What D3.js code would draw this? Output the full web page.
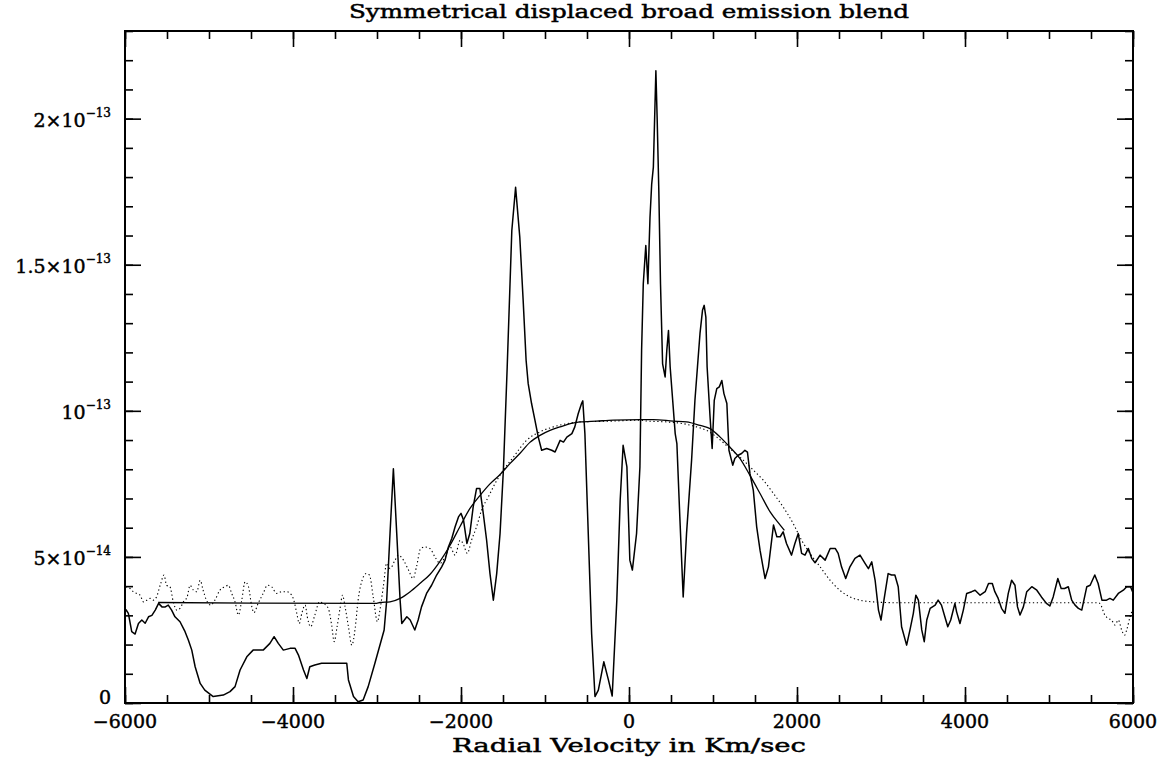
<!DOCTYPE html>
<meta charset="utf-8">
<style>
body { margin: 0; background: #fff; }
text { font-family: "DejaVu Serif", serif; fill: #000; stroke: #000; stroke-width: 0.45; }
</style>
<body>
<svg id="chart" width="1169" height="765"></svg>
<script src="https://d3js.org/d3.v7.min.js"></script>
<script>
// flux values are in units of 1e-14

// observed spectrum (solid)
var specV = [-5990,-5960,-5920,-5880,-5840,-5800,-5760,-5720,-5680,-5640,-5600,-5560,-5520,-5485,-5445,-5405,-5345,-5285,-5245,-5205,-5165,-5105,-5050,-4950,-4830,-4750,-4690,-4630,-4550,-4475,-4355,-4275,-4225,-4175,-4115,-4035,-3975,-3935,-3875,-3835,-3800,-3740,-3660,-3360,-3340,-3280,-3225,-3165,-3105,-3025,-2915,-2885,-2845,-2805,-2765,-2725,-2705,-2645,-2605,-2550,-2510,-2470,-2410,-2350,-2290,-2230,-2190,-2150,-2110,-2070,-2030,-2000,-1970,-1930,-1895,-1855,-1815,-1775,-1735,-1695,-1655,-1615,-1575,-1535,-1495,-1450,-1395,-1350,-1300,-1260,-1225,-1200,-1160,-1120,-1080,-1040,-980,-920,-880,-820,-780,-740,-680,-645,-605,-565,-550,-525,-485,-445,-405,-365,-300,-245,-200,-145,-105,-70,-25,10,40,90,130,150,170,200,225,250,270,290,320,335,355,375,400,430,450,470,490,520,550,570,605,645,685,745,785,815,845,875,895,915,930,965,990,1015,1045,1075,1105,1130,1165,1190,1235,1260,1300,1340,1380,1410,1440,1480,1520,1560,1620,1660,1720,1760,1800,1835,1875,1935,1975,2015,2055,2095,2135,2175,2215,2275,2335,2395,2455,2490,2530,2580,2630,2690,2750,2810,2850,2890,2930,2970,3000,3035,3085,3125,3165,3205,3245,3305,3345,3385,3415,3445,3485,3515,3545,3585,3645,3680,3720,3760,3795,3830,3880,3900,3940,3980,4020,4080,4120,4180,4240,4280,4325,4355,4395,4435,4475,4515,4555,4595,4625,4655,4695,4735,4795,4855,4910,4970,5010,5050,5105,5145,5185,5230,5270,5310,5350,5390,5450,5490,5545,5585,5630,5685,5725,5765,5825,5885,5925,5970,5995];
var specF = [3.2,3.07,2.44,2.36,2.72,2.84,2.73,2.95,3.0,3.18,3.41,3.29,3.29,3.35,3.18,2.95,2.78,2.44,2.15,1.81,1.24,0.67,0.44,0.22,0.27,0.39,0.56,1.13,1.58,1.81,1.81,2.04,2.27,2.04,1.81,1.87,1.87,1.64,1.13,0.84,1.24,1.30,1.36,1.36,0.79,0.22,0.04,0.1,0.56,1.36,2.5,3.5,5.8,8.02,5.8,3.52,2.72,2.95,2.84,2.5,2.84,3.29,3.75,4.03,4.38,4.66,4.89,5.34,5.63,6.03,6.37,6.49,6.26,5.46,5.8,6.71,7.34,7.34,6.49,5.57,4.43,3.52,4.43,5.8,8.0,11.5,16.17,17.65,15.94,13.78,11.73,10.93,10.25,9.68,9.1,8.65,8.71,8.65,8.59,8.99,8.93,9.1,9.22,9.45,9.9,10.25,10.34,9.22,5.8,2.38,0.22,0.44,1.41,0.79,0.24,3.52,6.94,8.82,8.08,4.89,4.55,5.8,8.08,12.07,14.35,15.66,14.35,16.62,17.76,18.34,21.64,20.04,17.54,14.35,11.61,11.16,12.07,12.75,11.5,10.36,9.22,8.88,6.37,3.63,5.8,8.31,10.36,11.5,12.64,13.44,13.61,13.21,11.5,9.79,8.71,10.36,10.76,10.82,11.04,10.59,10.25,8.65,8.14,8.37,8.48,8.54,8.65,8.59,7.85,7.28,6.03,5.23,4.26,4.66,6.09,5.69,5.69,5.86,5.46,5.06,5.46,5.8,5.12,5.06,5.29,4.95,4.8,5.06,4.89,5.29,5.29,5.12,4.66,4.26,4.66,4.95,5.06,4.78,4.6,4.83,4.2,3.18,2.84,3.52,4.43,4.38,4.38,3.98,2.61,1.98,2.5,3.07,3.69,3.52,2.5,2.1,2.84,3.24,3.35,3.52,3.35,2.95,2.61,2.84,3.41,3.12,2.72,3.18,3.75,3.81,3.86,3.69,3.81,4.09,4.09,3.81,3.58,3.24,3.07,3.75,4.2,4.03,3.29,3.01,3.29,3.81,3.98,3.86,3.63,3.41,3.32,3.63,4.26,3.92,3.92,3.98,3.52,3.35,3.24,3.18,3.98,4.03,4.38,4.09,3.52,3.52,3.58,3.52,3.75,3.86,3.98,3.98,3.81];

// fitted broad profile (solid, smooth)
var modelV = [-5605,-4500,-3005,-2965,-2845,-2725,-2605,-2490,-2370,-2250,-2130,-2010,-1895,-1775,-1655,-1535,-1415,-1300,-1180,-1060,-940,-820,-700,-585,-385,-185,130,290,525,685,845,965,1085,1200,1320,1440,1560,1680,1800,1850];
var modelF = [3.44,3.42,3.41,3.44,3.46,3.58,3.81,4.09,4.4,4.85,5.4,6.05,6.65,7.1,7.5,7.82,8.2,8.54,8.92,9.16,9.33,9.45,9.56,9.62,9.65,9.68,9.7,9.7,9.65,9.62,9.5,9.39,9.1,8.76,8.37,7.79,7.17,6.54,6.09,5.91];

// symmetrical displaced profile (dotted)
var dotV = [-5990,-5940,-5900,-5860,-5820,-5780,-5740,-5700,-5665,-5625,-5575,-5535,-5505,-5465,-5425,-5385,-5345,-5305,-5260,-5225,-5185,-5145,-5105,-5070,-5030,-4980,-4930,-4870,-4810,-4770,-4730,-4690,-4650,-4610,-4570,-4530,-4490,-4465,-4415,-4355,-4305,-4255,-4195,-4135,-4075,-4015,-3985,-3955,-3925,-3895,-3855,-3830,-3790,-3740,-3685,-3640,-3580,-3540,-3510,-3475,-3440,-3410,-3380,-3340,-3300,-3260,-3225,-3170,-3130,-3090,-3045,-2995,-2965,-2925,-2885,-2845,-2785,-2745,-2685,-2625,-2570,-2530,-2480,-2430,-2370,-2310,-2250,-2190,-2130,-2070,-2010,-1975,-1925,-1875,-1815,-1755,-1675,-1595,-1495,-1375,-1220,-1060,-900,-740,-585,-185,130,210,450,645,805,925,1045,1200,1360,1480,1600,1720,1835,1955,2055,2155,2275,2395,2510,2630,2750,2910,3225,4415,5585,5605,5665,5705,5745,5785,5825,5865,5900,5925,5965,5985];
var dotF = [3.98,3.92,3.81,3.75,3.69,3.46,3.52,3.58,3.52,3.63,4.09,4.38,4.03,3.98,3.46,3.18,3.24,3.46,3.63,4.03,3.86,3.81,4.2,3.86,3.52,3.35,3.52,3.86,3.98,4.03,3.75,3.46,3.01,3.52,4.15,3.98,3.29,3.09,3.41,3.75,4.03,3.98,3.75,3.81,3.81,3.69,3.46,3.07,2.72,3.07,3.35,2.95,2.61,3.01,3.46,3.41,3.24,2.67,2.1,2.61,3.24,3.69,3.29,2.61,1.98,2.55,3.52,4.26,4.43,4.38,3.63,2.78,3.18,3.98,4.78,4.6,4.89,5.06,4.89,4.55,4.26,4.66,5.29,5.34,5.29,5.0,4.78,5.0,5.34,5.06,5.57,5.46,5.12,5.57,6.03,6.6,7.05,7.51,7.97,8.42,8.99,9.28,9.45,9.56,9.62,9.65,9.68,9.65,9.62,9.56,9.45,9.33,9.1,8.71,8.31,7.97,7.62,7.17,6.71,6.14,5.57,5.12,4.66,4.2,3.86,3.63,3.52,3.46,3.43,3.43,3.43,3.41,3.01,2.89,2.84,2.67,2.84,2.5,2.32,2.5,2.95,3.12];

// axes
var xMajor = [-6000,-4000,-2000,0,2000,4000,6000];
var xMinor = d3.range(-6000, 6001, 500);
var xLabels = ["\u22126000","\u22124000","\u22122000","0","2000","4000","6000"];
var yMajor = [0,5,10,15,20];
var yMinor = d3.range(0, 23.01, 1);
var yBase = ["0","5\u00d710","10","1.5\u00d710","2\u00d710"];
var yExp = ["","\u221214","\u221213","\u221213","\u221213"];

var svg = d3.select("#chart");
var m = {left: 125, right: 36, top: 31, bottom: 62};
var W = 1169, H = 765;
var pw = W - m.left - m.right, ph = H - m.top - m.bottom;

var x = d3.scaleLinear().domain([-6000, 6000]).range([0, pw]);
var y = d3.scaleLinear().domain([0, 23]).range([ph, 0]);

var g = svg.append("g").attr("transform", "translate(" + m.left + "," + m.top + ")");

svg.append("defs").append("clipPath").attr("id", "clip")
  .append("rect").attr("width", pw).attr("height", ph);

var plot = g.append("g").attr("clip-path", "url(#clip)");

function zip(vs, fs) { return vs.map(function(v, i) { return [v, fs[i]]; }); }

var line = d3.line().x(function(d) { return x(d[0]); }).y(function(d) { return y(d[1]); });
var smooth = d3.line().curve(d3.curveMonotoneX).x(function(d) { return x(d[0]); }).y(function(d) { return y(d[1]); });

plot.append("path").datum(zip(dotV, dotF))
  .attr("d", smooth).attr("fill", "none").attr("stroke", "#000")
  .attr("stroke-width", 1.1).attr("stroke-dasharray", "1.3,2.6");

plot.append("path").datum(zip(modelV, modelF))
  .attr("d", smooth).attr("fill", "none").attr("stroke", "#000").attr("stroke-width", 1.3);

plot.append("path").datum(zip(specV, specF))
  .attr("d", line).attr("fill", "none").attr("stroke", "#000")
  .attr("stroke-width", 1.5).attr("stroke-linejoin", "round");

// ticks on all four sides, pointing inwards
var sides = [
  [d3.axisBottom, x, "translate(0," + ph + ")", xMinor, xMajor],
  [d3.axisTop, x, "translate(0,0)", xMinor, xMajor],
  [d3.axisLeft, y, "translate(0,0)", yMinor, yMajor],
  [d3.axisRight, y, "translate(" + pw + ",0)", yMinor, yMajor]
];
sides.forEach(function(s) {
  [[s[3], 8], [s[4], 16]].forEach(function(t) {
    var a = g.append("g").attr("transform", s[2])
      .call(s[0](s[1]).tickValues(t[0]).tickSize(-t[1]).tickFormat(""));
    a.select(".domain").remove();
    a.selectAll(".tick line").attr("stroke", "#000").attr("stroke-width", 1.6);
  });
});

g.append("rect").attr("width", pw).attr("height", ph)
  .attr("fill", "none").attr("stroke", "#000").attr("stroke-width", 2);

// x tick labels
g.selectAll(".xlab").data(xMajor).enter().append("text")
  .attr("x", function(d) { return x(d); })
  .attr("y", ph + 25)
  .attr("text-anchor", "middle")
  .attr("font-size", 19)
  .text(function(d, i) { return xLabels[i]; });

// y tick labels with exponents
var yl = g.selectAll(".ylab").data(yMajor).enter().append("text")
  .attr("x", -14)
  .attr("y", function(d) { return d === 0 ? y(d) + 1 : y(d) + 8; })
  .attr("text-anchor", "end")
  .attr("font-size", 19);
yl.append("tspan").text(function(d, i) { return yBase[i]; });
yl.append("tspan").attr("font-size", 12).attr("dy", -10)
  .text(function(d, i) { return yExp[i]; });

// title and axis label
svg.append("text").attr("x", m.left + pw / 2).attr("y", 18)
  .attr("text-anchor", "middle").attr("font-size", 18)
  .attr("textLength", 560).attr("lengthAdjust", "spacingAndGlyphs")
  .text("Symmetrical displaced broad emission blend");

svg.append("text").attr("x", m.left + pw / 2).attr("y", 752)
  .attr("text-anchor", "middle").attr("font-size", 19)
  .attr("textLength", 354).attr("lengthAdjust", "spacingAndGlyphs")
  .text("Radial Velocity in Km/sec");
</script>
</body>
